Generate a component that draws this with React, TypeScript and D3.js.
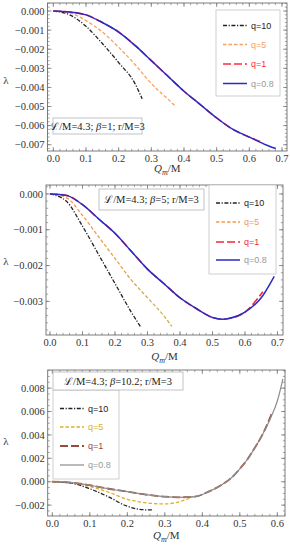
import * as d3 from 'd3'

const W = 290
const H = 550

// ---- data ----
const qLabels = ['q=10', 'q=5', 'q=1', 'q=0.8']

// panel 1: L/M=4.3, beta=1
const p1X_q10 = [0, 0.05, 0.1, 0.15, 0.2, 0.25, 0.272]
const p1Y_q10 = [0, -0.0002, -0.0008, -0.0017, -0.0027, -0.0038, -0.0046]
const p1X_q5 = [0, 0.05, 0.1, 0.15, 0.2, 0.25, 0.3, 0.35, 0.375]
const p1Y_q5 = [0, -0.0001, -0.0005, -0.0011, -0.0019, -0.0028, -0.0038, -0.0046, -0.005]
const p1X_q1 = [0, 0.05, 0.1, 0.15, 0.2, 0.25, 0.3, 0.35, 0.4, 0.45, 0.5, 0.55, 0.6, 0.642]
const p1Y_q1 = [0, -0.00005, -0.0002, -0.0006, -0.0011, -0.0018, -0.0026, -0.0034, -0.0042, -0.0049, -0.0056, -0.0062, -0.0066, -0.0069]
const p1X_q08 = [0, 0.05, 0.1, 0.15, 0.2, 0.25, 0.3, 0.35, 0.4, 0.45, 0.5, 0.55, 0.6, 0.65, 0.681]
const p1Y_q08 = [0, -0.00005, -0.0002, -0.0006, -0.0011, -0.0018, -0.0026, -0.0034, -0.0042, -0.0049, -0.0056, -0.0062, -0.0066, -0.007, -0.0072]

// panel 2: L/M=4.3, beta=5
const p2X_q10 = [0, 0.05, 0.1, 0.15, 0.2, 0.25, 0.278]
const p2Y_q10 = [0, -0.0002, -0.0009, -0.0017, -0.0025, -0.0033, -0.0037]
const p2X_q5 = [0, 0.05, 0.1, 0.15, 0.2, 0.25, 0.3, 0.35, 0.375]
const p2Y_q5 = [0, -0.0001, -0.0006, -0.0012, -0.0018, -0.0024, -0.0029, -0.0034, -0.0037]
const p2X_q1 = [0, 0.05, 0.1, 0.15, 0.2, 0.25, 0.3, 0.35, 0.4, 0.45, 0.5, 0.53, 0.55, 0.6, 0.655]
const p2Y_q1 = [0, -0.00004, -0.0003, -0.0007, -0.0011, -0.0016, -0.0021, -0.0025, -0.0029, -0.0032, -0.00345, -0.0035, -0.00348, -0.0033, -0.00273]
const p2X_q08 = [0, 0.05, 0.1, 0.15, 0.2, 0.25, 0.3, 0.35, 0.4, 0.45, 0.5, 0.53, 0.55, 0.6, 0.65, 0.69]
const p2Y_q08 = [0, -0.00004, -0.0003, -0.0007, -0.0011, -0.0016, -0.0021, -0.0025, -0.0029, -0.0032, -0.00345, -0.0035, -0.00348, -0.0033, -0.0029, -0.0023]

// panel 3: L/M=4.3, beta=10.2
const p3X_q10 = [0, 0.05, 0.1, 0.15, 0.2, 0.25, 0.27]
const p3Y_q10 = [0, -0.00012, -0.0006, -0.0013, -0.0021, -0.0024, -0.0024]
const p3X_q5 = [0, 0.05, 0.1, 0.15, 0.2, 0.25, 0.3, 0.34, 0.375]
const p3Y_q5 = [0, -0.0001, -0.0004, -0.0009, -0.0015, -0.0018, -0.0019, -0.0017, -0.0013]
const p3X_q1 = [0, 0.05, 0.1, 0.15, 0.2, 0.25, 0.3, 0.34, 0.38, 0.42, 0.45, 0.48, 0.5, 0.52, 0.54, 0.56, 0.585]
const p3Y_q1 = [0, -0.00007, -0.0003, -0.0006, -0.00085, -0.0011, -0.00128, -0.00133, -0.00128, -0.0008, -0.0003, 0.0004, 0.0011, 0.0019, 0.0029, 0.004, 0.0058]
const p3X_q08 = [0, 0.05, 0.1, 0.15, 0.2, 0.25, 0.3, 0.34, 0.38, 0.42, 0.45, 0.48, 0.5, 0.52, 0.54, 0.56, 0.58, 0.6, 0.615]
const p3Y_q08 = [0, -0.00007, -0.0003, -0.0006, -0.00085, -0.0011, -0.00128, -0.00133, -0.00128, -0.0008, -0.0003, 0.0004, 0.0011, 0.0019, 0.0029, 0.004, 0.0053, 0.0069, 0.0088]

const xTicks7 = [0, 0.1, 0.2, 0.3, 0.4, 0.5, 0.6, 0.7]
const xTicks6 = [0, 0.1, 0.2, 0.3, 0.4, 0.5, 0.6]
const p1YTicks = [0, -0.001, -0.002, -0.003, -0.004, -0.005, -0.006, -0.007]
const p2YTicks = [0, -0.001, -0.002, -0.003]
const p3YTicks = [-0.002, 0, 0.002, 0.004, 0.006, 0.008]

const zip = (xs: number[], ys: number[]) => xs.map((x, i) => [x, ys[i]] as [number, number])

const serif = '"Liberation Serif", "DejaVu Serif", serif'
const sans = '"Liberation Sans", Arial, sans-serif'
const frameColor = '#6e6e6e'

const dashes = ['4,1.6,1.2,1.6', '3.5,2', '8,3', '']

type Style = { color: string; width: number; text: string; grad?: [string, string] }

const styles1: Style[] = [
  { color: '#222', width: 1.3, text: '#222' },
  { color: '#f6a064', width: 1.3, text: '#f6a064' },
  { color: '#ff2a3c', width: 1.6, text: '#ff2a3c' },
  { color: '#2b2bc4', width: 1.5, text: '#999' },
]
const styles2: Style[] = [
  { color: '#222', width: 1.3, text: '#222' },
  { color: '#f39a50', width: 1.3, text: '#f39a50', grad: ['#f39a50', '#c8b43a'] },
  { color: '#ee2a3a', width: 1.6, text: '#ee2a3a' },
  { color: '#2b2bc4', width: 1.5, text: '#999' },
]
const styles3: Style[] = [
  { color: '#222', width: 1.3, text: '#222' },
  { color: '#d9b228', width: 1.3, text: '#d9b228' },
  { color: '#9a4a38', width: 1.8, text: '#9a4a38' },
  { color: '#8c8c8c', width: 1.2, text: '#999' },
]

type PanelProps = {
  id: string
  frame: { l: number; r: number; t: number; b: number }
  xDomain: [number, number]
  yDomain: [number, number]
  xTicks: number[]
  yTicks: number[]
  yMinor: number
  series: [number, number][][]
  styles: Style[]
  legend: { x: number; y: number; w: number; h: number; rowY: number[] }
  note: { x: number; y: number; w: number; h: number; beta: string }
  xLabelY: number
  lambdaY: number
}

function Panel(p: PanelProps) {
  const { frame } = p
  const x = d3.scaleLinear().domain(p.xDomain).range([frame.l, frame.r])
  const y = d3.scaleLinear().domain(p.yDomain).range([frame.b, frame.t])
  const line = d3
    .line<[number, number]>()
    .x((d) => x(d[0]))
    .y((d) => y(d[1]))
    .curve(d3.curveMonotoneX)

  const xMinor = d3.range(Math.ceil(p.xDomain[0] / 0.02), Math.floor(p.xDomain[1] / 0.02) + 1).map((i) => i * 0.02)
  const yMinor = d3.range(Math.ceil(p.yDomain[0] / p.yMinor), Math.floor(p.yDomain[1] / p.yMinor) + 1).map((i) => i * p.yMinor)
  const fmtY = d3.format('.3f')
  const fmtX = d3.format('.1f')
  const major = 4
  const minor = 2.2
  const lg = p.legend

  return (
    <g>
      <defs>
        <clipPath id={`clip-${p.id}`}>
          <rect x={frame.l} y={frame.t} width={frame.r - frame.l} height={frame.b - frame.t} />
        </clipPath>
        {p.styles.map((s, i) =>
          s.grad ? (
            <linearGradient key={i} id={`grad-${p.id}-${i}`} gradientUnits="userSpaceOnUse" x1={x(0)} x2={x(0.375)} y1={0} y2={0}>
              <stop offset="0.35" stopColor={s.grad[0]} />
              <stop offset="1" stopColor={s.grad[1]} />
            </linearGradient>
          ) : null
        )}
      </defs>
      <rect x={frame.l} y={frame.t} width={frame.r - frame.l} height={frame.b - frame.t} fill="white" />

      <g clipPath={`url(#clip-${p.id})`}>
        {p.series.map((d, i) => (
          <path
            key={i}
            d={line(d) || ''}
            fill="none"
            stroke={p.styles[i].grad ? `url(#grad-${p.id}-${i})` : p.styles[i].color}
            strokeWidth={p.styles[i].width}
            strokeDasharray={dashes[i] || undefined}
          />
        ))}
      </g>

      {/* frame ticks */}
      {xMinor.map((v) => (
        <g key={'xm' + v} stroke={frameColor} strokeWidth={0.6}>
          <line x1={x(v)} x2={x(v)} y1={frame.b} y2={frame.b - minor} />
          <line x1={x(v)} x2={x(v)} y1={frame.t} y2={frame.t + minor} />
        </g>
      ))}
      {p.xTicks.map((v) => (
        <g key={'x' + v}>
          <line x1={x(v)} x2={x(v)} y1={frame.b} y2={frame.b - major} stroke={frameColor} strokeWidth={0.7} />
          <line x1={x(v)} x2={x(v)} y1={frame.t} y2={frame.t + major} stroke={frameColor} strokeWidth={0.7} />
          <text x={x(v)} y={frame.b + 11} textAnchor="middle" fontFamily={serif} fontSize={10.5} fill="#333">
            {fmtX(v)}
          </text>
        </g>
      ))}
      {yMinor.map((v) => (
        <g key={'ym' + v} stroke={frameColor} strokeWidth={0.6}>
          <line x1={frame.l} x2={frame.l + minor} y1={y(v)} y2={y(v)} />
          <line x1={frame.r} x2={frame.r - minor} y1={y(v)} y2={y(v)} />
        </g>
      ))}
      {p.yTicks.map((v) => (
        <g key={'y' + v}>
          <line x1={frame.l} x2={frame.l + major} y1={y(v)} y2={y(v)} stroke={frameColor} strokeWidth={0.7} />
          <line x1={frame.r} x2={frame.r - major} y1={y(v)} y2={y(v)} stroke={frameColor} strokeWidth={0.7} />
          <text x={frame.l - 3} y={y(v)} dy="0.35em" textAnchor="end" fontFamily={serif} fontSize={10.5} fill="#333">
            {fmtY(v)}
          </text>
        </g>
      ))}
      <rect
        x={frame.l}
        y={frame.t}
        width={frame.r - frame.l}
        height={frame.b - frame.t}
        fill="none"
        stroke={frameColor}
        strokeWidth={0.9}
      />

      {/* legend */}
      <rect x={lg.x} y={lg.y} width={lg.w} height={lg.h} fill="white" stroke="#c4c4c4" strokeWidth={0.8} />
      {qLabels.map((q, i) => (
        <g key={q}>
          <line
            x1={lg.x + 7}
            x2={lg.x + 31}
            y1={lg.rowY[i]}
            y2={lg.rowY[i]}
            stroke={p.styles[i].color}
            strokeWidth={p.styles[i].width}
            strokeDasharray={dashes[i] || undefined}
          />
          <text x={lg.x + 35} y={lg.rowY[i]} dy="0.35em" fontFamily={sans} fontSize={9} fill={p.styles[i].text}>
            {q}
          </text>
        </g>
      ))}

      {/* parameter box */}
      <rect x={p.note.x} y={p.note.y} width={p.note.w} height={p.note.h} fill="white" stroke="#b4b4b4" strokeWidth={0.8} />
      <text
        x={p.note.x + p.note.w / 2}
        y={p.note.y + p.note.h / 2}
        dy="0.35em"
        textAnchor="middle"
        fontFamily={serif}
        fontSize={10.5}
        fill="#222"
      >
        <tspan>ℒ</tspan>
        <tspan>/M=4.3; </tspan>
        <tspan fontStyle="italic">β</tspan>
        <tspan>={p.note.beta}; r/M=3</tspan>
      </text>

      {/* axis labels */}
      <text x={(frame.l + frame.r) / 2} y={p.xLabelY} textAnchor="middle" fontFamily={serif} fontSize={11} fill="#333">
        <tspan fontStyle="italic">Q</tspan>
        <tspan fontStyle="italic" fontSize={8} dy={2.5}>m</tspan>
        <tspan dy={-2.5}>/M</tspan>
      </text>
      <text x={6} y={p.lambdaY} dy="0.35em" textAnchor="middle" fontFamily={serif} fontSize={11} fill="#333">
        λ
      </text>
    </g>
  )
}

export default function App() {
  return (
    <svg width={W} height={H} style={{ position: 'absolute', left: 0, top: 0, background: 'white' }}>
      <rect width={W} height={H} fill="white" />
      <Panel
        id="p1"
        frame={{ l: 47.5, r: 287, t: 3, b: 151 }}
        xDomain={[-0.0178, 0.7153]}
        yDomain={[-0.00733, 0.00042]}
        xTicks={xTicks7}
        yTicks={p1YTicks}
        yMinor={0.0002}
        series={[zip(p1X_q10, p1Y_q10), zip(p1X_q5, p1Y_q5), zip(p1X_q1, p1Y_q1), zip(p1X_q08, p1Y_q08)]}
        styles={styles1}
        legend={{ x: 216, y: 10, w: 64, h: 86, rowY: [25.5, 44.5, 64, 83.5] }}
        note={{ x: 53, y: 118, w: 89, h: 16, beta: '1' }}
        xLabelY={172}
        lambdaY={80}
      />
      <Panel
        id="p2"
        frame={{ l: 46, r: 283, t: 185, b: 335 }}
        xDomain={[-0.0123, 0.717]}
        yDomain={[-0.00394, 0.00025]}
        xTicks={xTicks7}
        yTicks={p2YTicks}
        yMinor={0.0002}
        series={[zip(p2X_q10, p2Y_q10), zip(p2X_q5, p2Y_q5), zip(p2X_q1, p2Y_q1), zip(p2X_q08, p2Y_q08)]}
        styles={styles2}
        legend={{ x: 209, y: 185, w: 67, h: 89, rowY: [203, 222, 242, 260] }}
        note={{ x: 99, y: 189, w: 105, h: 21, beta: '5' }}
        xLabelY={360}
        lambdaY={261}
      />
      <Panel
        id="p3"
        frame={{ l: 47.7, r: 285, t: 370, b: 516 }}
        xDomain={[-0.0123, 0.6205]}
        yDomain={[-0.00293, 0.00955]}
        xTicks={xTicks6}
        yTicks={p3YTicks}
        yMinor={0.0005}
        series={[zip(p3X_q10, p3Y_q10), zip(p3X_q5, p3Y_q5), zip(p3X_q1, p3Y_q1), zip(p3X_q08, p3Y_q08)]}
        styles={styles3}
        legend={{ x: 53, y: 390, w: 66, h: 89, rowY: [408.5, 427, 446, 465] }}
        note={{ x: 53, y: 372, w: 130, h: 18, beta: '10.2' }}
        xLabelY={539}
        lambdaY={441}
      />
    </svg>
  )
}
